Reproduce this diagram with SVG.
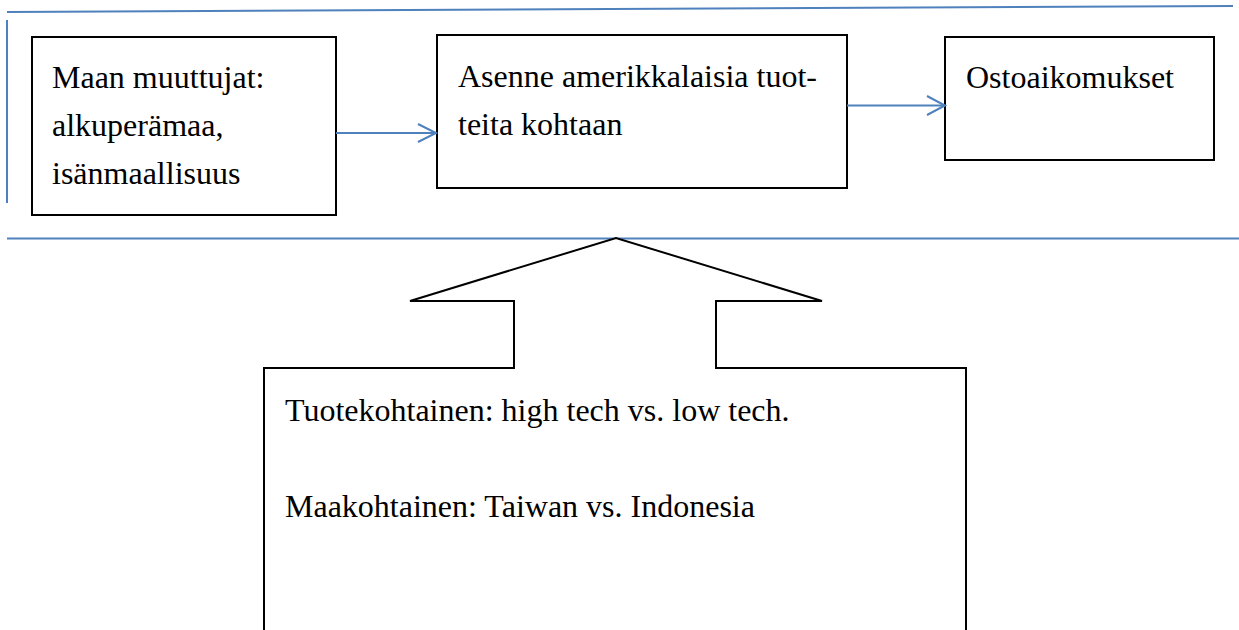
<svg xmlns="http://www.w3.org/2000/svg" width="1239" height="630" viewBox="0 0 1239 630">
  <style>
    .guide { stroke: #4F81BD; stroke-width: 2; fill: none; }
    .box { fill: #ffffff; stroke: #000000; stroke-width: 2; }
    .conn { stroke: #4F81BD; stroke-width: 2; fill: none; }
    .label { font-family: "Liberation Serif", "Times New Roman", serif; font-size: 32px; fill: #000000; }
  </style>

  <!-- frame rules -->
  <g id="guides">
    <line class="guide" x1="7" y1="12" x2="1233" y2="6"/>
    <line class="guide" x1="7" y1="20" x2="7" y2="203"/>
    <line class="guide" x1="7" y1="238.5" x2="1239" y2="238.5"/>
  </g>

  <g id="node-maan-muuttujat">
    <rect class="box" x="32" y="37" width="304" height="178"/>
    <text class="label" x="52" y="88">Maan muuttujat:</text>
    <text class="label" x="52" y="136">alkuperämaa,</text>
    <text class="label" x="52" y="184">isänmaallisuus</text>
  </g>

  <g id="node-asenne">
    <rect class="box" x="437" y="35" width="410" height="153"/>
    <text class="label" x="458" y="87">Asenne amerikkalaisia tuot-</text>
    <text class="label" x="458" y="135">teita kohtaan</text>
  </g>

  <g id="node-ostoaikomukset">
    <rect class="box" x="945" y="37" width="269" height="123"/>
    <text class="label" x="966" y="88">Ostoaikomukset</text>
  </g>

  <!-- block arrow rising from the moderator box -->
  <g id="node-moderaattorit">
    <path class="box" d="M264 630 V368 H514 V301 H410 L616 238 L822 301 H716 V368 H966 V630"/>
    <text class="label" x="285" y="421">Tuotekohtainen: high tech vs. low tech.</text>
    <text class="label" x="285" y="517">Maakohtainen: Taiwan vs. Indonesia</text>
  </g>

  <g id="connectors">
    <line class="conn" x1="336" y1="133" x2="436" y2="133"/>
    <polyline class="conn" points="418,124 436,133 418,142"/>
    <line class="conn" x1="847" y1="105.5" x2="944" y2="105.5"/>
    <polyline class="conn" points="927,96 945,105.5 927,115"/>
  </g>
</svg>
